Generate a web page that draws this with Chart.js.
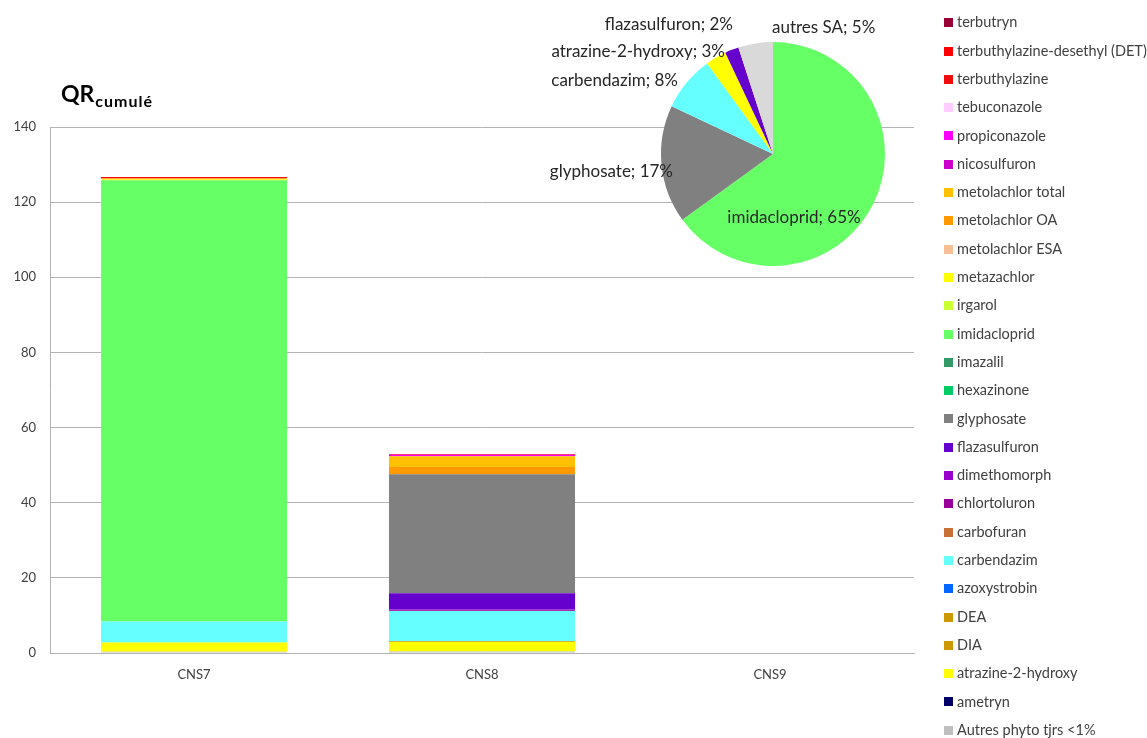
<!DOCTYPE html>
<html>
<head>
<meta charset="utf-8">
<script src="https://cdn.jsdelivr.net/npm/chart.js@4/dist/chart.umd.min.js"></script>
<style>
  html, body { margin: 0; padding: 0; background: #fff; overflow: hidden; }
  #wrap { position: relative; width: 1147px; height: 738px; }
  #wrap canvas { position: absolute; left: 0; top: 0; }
</style>
</head>
<body>
<div id="wrap">
  <canvas id="barChart" width="1147" height="738"></canvas>
  <canvas id="pieChart" width="1147" height="738"></canvas>
</div>
<script>
// stations
var categories = ['CNS7', 'CNS8', 'CNS9'];

// substances, dans l'ordre de la légende (haut -> bas)
var substances = [
  'terbutryn', 'terbuthylazine-desethyl (DET)', 'terbuthylazine', 'tebuconazole',
  'propiconazole', 'nicosulfuron', 'metolachlor total', 'metolachlor OA',
  'metolachlor ESA', 'metazachlor', 'irgarol', 'imidacloprid', 'imazalil',
  'hexazinone', 'glyphosate', 'flazasulfuron', 'dimethomorph', 'chlortoluron',
  'carbofuran', 'carbendazim', 'azoxystrobin', 'DEA', 'DIA',
  'atrazine-2-hydroxy', 'ametryn', 'Autres phyto tjrs <1%'
];

// QR par station (même ordre que substances)
var cns7 = [0, 0, 0.4, 0, 0, 0, 0.2, 0, 0, 0.3, 0, 117.4, 0, 0, 0, 0, 0, 0, 0, 5.6, 0, 0, 0, 2.5, 0, 0.3];
var cns8 = [0, 0, 0.2, 0, 0.35, 0, 2.9, 1.9, 0, 0, 0, 0, 0, 0, 31.7, 4.3, 0.2, 0.2, 0, 8.0, 0, 0.15, 0.15, 2.5, 0, 0.4];
var cns9 = [0, 0, 0, 0, 0, 0, 0, 0, 0, 0, 0, 0, 0, 0, 0, 0, 0, 0, 0, 0, 0, 0, 0, 0, 0, 0];

var yTicks = [0, 20, 40, 60, 80, 100, 120, 140];

// camembert : répartition du QR cumulé
var pieLabels = ['imidacloprid', 'glyphosate', 'carbendazim', 'atrazine-2-hydroxy', 'flazasulfuron', 'autres SA'];
var piePercent = [65, 17, 8, 3, 2, 5];

// couleurs
var substanceColors = [
  '#990033', '#FF0000', '#F20D0D', '#FFCCFF', '#FF00FF', '#CC00CC', '#FFC000', '#FF9900',
  '#F8BF96', '#FFFF00', '#CCFF33', '#66FF66', '#339966', '#00CC66', '#808080', '#6600CC',
  '#9900CC', '#990099', '#C87137', '#66FFFF', '#0066FF', '#CC9900', '#CC9900', '#FFFF00',
  '#000066', '#BFBFBF'
];
var pieColors = ['#66FF66', '#808080', '#66FFFF', '#FFFF00', '#6600CC', '#D9D9D9'];
// position des étiquettes du camembert par rapport au centre : [dx, dy, alignement]
var pieLabelPos = [[21, 64, 'center'], [-100, 18, 'right'], [-95, -73, 'right'],
                   [-48, -102, 'right'], [-40, -129, 'right'], [-1, -126, 'left']];

var FONT = 'Lato';
var TXT = '#404040';
var GRID = '#B3B3B3';

function drawCharts() {
  // datasets empilés du bas vers le haut : ordre inverse de la légende
  var datasets = [];
  for (var i = substances.length - 1; i >= 0; i--) {
    datasets.push({
      label: substances[i],
      data: [cns7[i], cns8[i], cns9[i]],
      backgroundColor: substanceColors[i],
      borderWidth: 0,
      categoryPercentage: 1,
      barPercentage: 0.646
    });
  }

  var titlePlugin = {
    id: 'qrTitle',
    afterDraw: function(chart) {
      var c = chart.ctx;
      c.save();
      c.fillStyle = '#000';
      c.textBaseline = 'alphabetic';
      c.textAlign = 'left';
      c.font = 'bold 23px ' + FONT;
      c.fillText('QR', 61, 102);
      var w = c.measureText('QR').width;
      c.font = 'bold 16px ' + FONT;
      if ('letterSpacing' in c) c.letterSpacing = '1px';
      c.fillText('cumulé', 61 + w + 1, 107);
      c.restore();
    }
  };

  var legendPlugin = {
    id: 'sideLegend',
    afterDraw: function(chart) {
      var c = chart.ctx;
      c.save();
      c.font = '14.5px ' + FONT;
      c.textBaseline = 'middle';
      c.textAlign = 'left';
      for (var i = 0; i < substances.length; i++) {
        var y = 22.7 + i * 28.3;
        c.fillStyle = substanceColors[i];
        c.fillRect(944, Math.round(y - 4.5), 9, 9);
        c.fillStyle = TXT;
        c.fillText(substances[i], 957, y);
      }
      c.restore();
    }
  };

  new Chart(document.getElementById('barChart').getContext('2d'), {
    type: 'bar',
    data: { labels: categories, datasets: datasets },
    options: {
      responsive: false,
      animation: false,
      layout: { padding: { left: 0, top: 127, right: 233, bottom: 0 } },
      plugins: { legend: { display: false }, tooltip: { enabled: false } },
      scales: {
        x: {
          stacked: true,
          grid: { display: false, drawTicks: false },
          border: { display: true, color: GRID, width: 1 },
          ticks: { color: TXT, font: { family: FONT, size: 13 }, padding: 14 },
          afterFit: function(s) { s.height = 85; }
        },
        y: {
          stacked: true,
          min: yTicks[0],
          max: yTicks[yTicks.length - 1],
          afterBuildTicks: function(s) { s.ticks = yTicks.map(function(v) { return { value: v }; }); },
          grid: { color: GRID, drawTicks: false },
          border: { display: true, color: GRID, width: 1 },
          ticks: { color: TXT, font: { family: FONT, size: 13 }, padding: 14 },
          afterFit: function(s) { s.width = 50; }
        }
      }
    },
    plugins: [titlePlugin, legendPlugin]
  });

  var pieLabelPlugin = {
    id: 'pieLabels',
    afterDraw: function(chart) {
      var arcs = chart.getDatasetMeta(0).data;
      var c = chart.ctx;
      c.save();
      c.font = '17px ' + FONT;
      c.fillStyle = '#262626';
      c.textBaseline = 'middle';
      for (var i = 0; i < arcs.length; i++) {
        var p = pieLabelPos[i];
        c.textAlign = p[2];
        c.fillText(pieLabels[i] + '; ' + piePercent[i] + '%', arcs[i].x + p[0], arcs[i].y + p[1]);
      }
      c.restore();
    }
  };

  new Chart(document.getElementById('pieChart').getContext('2d'), {
    type: 'pie',
    data: {
      labels: pieLabels,
      datasets: [{ data: piePercent, backgroundColor: pieColors, borderWidth: 0 }]
    },
    options: {
      responsive: false,
      animation: false,
      layout: { padding: { left: 661, right: 262, top: 42, bottom: 472 } },
      plugins: { legend: { display: false }, tooltip: { enabled: false } },
      events: []
    },
    plugins: [pieLabelPlugin]
  });
}

Promise.all([
  document.fonts.load('13px ' + FONT),
  document.fonts.load('bold 23px ' + FONT)
]).then(drawCharts, drawCharts);
</script>
</body>
</html>
